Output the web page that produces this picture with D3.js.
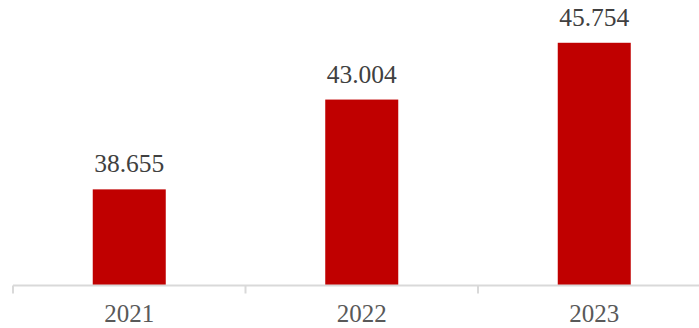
<!DOCTYPE html>
<html><head><meta charset="utf-8">
<script src="https://cdn.jsdelivr.net/npm/d3@7"></script>
<style>html,body{margin:0;padding:0;background:#fff;}</style>
</head><body>
<svg id="c" width="699" height="328"></svg>
<script>
const categories = ["2021", "2022", "2023"];
const values = [38.655, 43.004, 45.754];
const labels = ["38.655", "43.004", "45.754"];

const svg = d3.select("#c");
const x0 = 13, x1 = 710.5, baseY = 285.5;
const x = d3.scaleBand().domain(categories).range([x0, x1]).padding(0);
const y = d3.scaleLinear().domain([34, 47]).range([baseY, baseY - 13 * 20.65]);
const barW = x.bandwidth() * 0.314;
const font = "'Liberation Serif', serif";

svg.selectAll("rect.bar").data(categories).enter().append("rect")
  .attr("x", (d) => x(d) + x.bandwidth() / 2 - barW / 2)
  .attr("y", (d, i) => y(values[i]))
  .attr("width", barW)
  .attr("height", (d, i) => baseY - y(values[i]))
  .attr("fill", "#c00000");

// axis
const axis = d3.axisBottom(x).tickSize(0).tickPadding(0);
const g = svg.append("g").attr("transform", `translate(0,${baseY})`).call(axis);
g.select(".domain").remove();
g.selectAll(".tick text").remove();
svg.append("line").attr("x1", x0).attr("x2", 699).attr("y1", baseY).attr("y2", baseY)
  .attr("stroke", "#d9d9d9").attr("stroke-width", 2);
const bounds = categories.map(c => x(c)).concat([x1]);
svg.selectAll("line.tk").data(bounds).enter().append("line")
  .attr("x1", d => d).attr("x2", d => d)
  .attr("y1", baseY).attr("y2", baseY + 8)
  .attr("stroke", "#d9d9d9").attr("stroke-width", 2);

svg.selectAll("text.cat").data(categories).enter().append("text")
  .attr("x", d => x(d) + x.bandwidth() / 2)
  .attr("y", 322)
  .attr("text-anchor", "middle")
  .attr("font-family", font).attr("font-size", 25)
  .attr("fill", "#595959")
  .text(d => d);

svg.selectAll("text.val").data(categories).enter().append("text")
  .attr("x", d => x(d) + x.bandwidth() / 2)
  .attr("y", (d, i) => y(values[i]) - 17)
  .attr("text-anchor", "middle")
  .attr("font-family", font).attr("font-size", 25.5)
  .attr("fill", "#404040")
  .text((d, i) => labels[i]);
</script>
</body></html>
